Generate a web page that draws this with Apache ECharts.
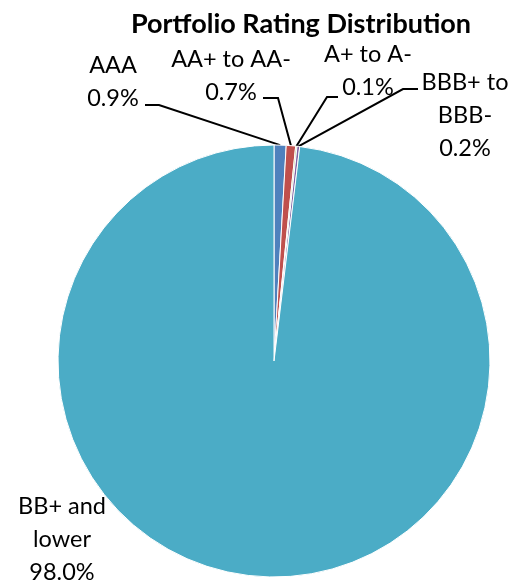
<!DOCTYPE html>
<html>
<head>
<meta charset="utf-8">
<script src="https://cdn.jsdelivr.net/npm/echarts@6/dist/echarts.min.js"></script>
<style>
html, body { margin: 0; padding: 0; background: #fff; }
#chart { width: 516px; height: 588px; }
</style>
</head>
<body>
<div id="chart"></div>
<script>
// 评级分布数据
var categories = ['AAA', 'AA+ to AA-', 'A+ to A-', 'BBB+ to BBB-', 'BB+ and lower'];
var labelNames = ['AAA', 'AA+ to AA-', 'A+ to A-', 'BBB+ to\nBBB-', 'BB+ and\nlower'];
var shares = [0.9, 0.7, 0.1, 0.2, 98.0];
var colors = ['#4F81BD', '#C0504D', '#9BBB59', '#8064A2', '#4BACC6'];

// 标签位置及引导线 (cx, cy: 标签中心; ex, ey: 引导线端点; bx: 拐点)
var labelCfg = [
    { cx: 113, cy: 82, ex: 145, ey: 105, bx: 159 },
    { cx: 231, cy: 76, ex: 263, ey: 98, bx: 278 },
    { cx: 368, cy: 71, ex: 338, ey: 97, bx: 327 },
    { cx: 465, cy: 115, ex: 418, ey: 89, bx: 403 },
    { cx: 62, cy: 539 }
];

var myChart = echarts.init(document.getElementById('chart'));

var data = categories.map(function (name, i) {
    return {
        name: name,
        value: shares[i],
        itemStyle: { color: colors[i] },
        label: { formatter: labelNames[i] + '\n' + shares[i].toFixed(1) + '%' },
        labelLine: { show: i < 4 }
    };
});

var option = {
    animation: false,
    title: {
        text: 'Portfolio Rating Distribution',
        left: 296,
        top: 6,
        textAlign: 'center',
        textStyle: { fontFamily: 'Lato', fontWeight: 'bold', fontSize: 27, color: '#000' }
    },
    series: [
        {
            type: 'pie',
            center: [274, 361],
            radius: 216,
            startAngle: 90,
            clockwise: true,
            avoidLabelOverlap: false,
            data: data,
            itemStyle: { borderColor: '#fff', borderWidth: 1 },
            label: {
                show: true,
                position: 'outside',
                overflow: 'none',
                fontFamily: 'Lato',
                fontSize: 23.5,
                lineHeight: 33,
                color: '#000',
                align: 'center'
            },
            labelLine: {
                show: true,
                lineStyle: { color: '#000', width: 2 }
            },
            labelLayout: function (params) {
                var c = labelCfg[params.dataIndex];
                var res = {
                    x: c.cx,
                    y: c.cy,
                    align: 'center',
                    verticalAlign: 'middle',
                    hideOverlap: false,
                    moveOverlap: null
                };
                if (c.ex != null && params.labelLinePoints) {
                    var p0 = params.labelLinePoints[0];
                    res.labelLinePoints = [p0, [c.bx, c.ey], [c.ex, c.ey]];
                }
                return res;
            }
        }
    ]
};

myChart.setOption(option);
</script>
</body>
</html>
